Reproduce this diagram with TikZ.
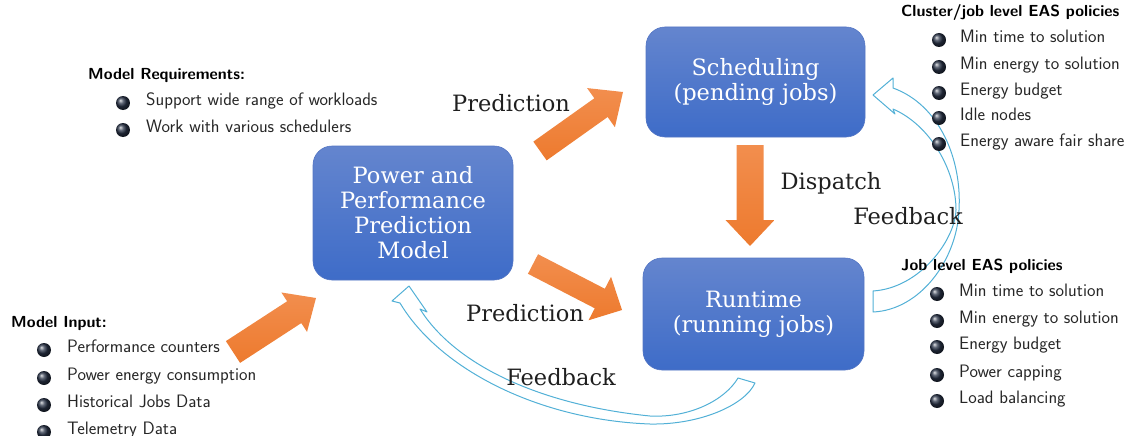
\documentclass[tikz,border=0pt]{standalone}
\usepackage{fontspec}
\newfontfamily\serifbox{DejaVu Serif}
\usetikzlibrary{calc}

\definecolor{boxtop}{RGB}{100,133,206}
\definecolor{boxbot}{RGB}{62,108,200}
\definecolor{boxedge}{RGB}{84,118,196}
\definecolor{orlight}{RGB}{242,142,78}
\definecolor{ordark}{RGB}{237,122,46}
\definecolor{fbline}{RGB}{82,176,214}
\definecolor{balltone}{RGB}{40,50,70}

\tikzset{
  stage/.style={shade, top color=boxtop, bottom color=boxbot, draw=boxedge,
    line width=0.6pt, rounded corners=19pt, text=white, align=center,
    font=\serifbox\fontsize{22.5}{25}\selectfont, inner sep=0pt},
  flowlabel/.style={font=\serifbox\fontsize{22.5}{25}\selectfont,
    text=black!88, inner sep=0pt},
  listhead/.style={font=\sffamily\bfseries\fontsize{16}{19}\selectfont,
    anchor=west, inner sep=0pt, text=black, text height=0.72em, text depth=0.22em},
  entry/.style={font=\sffamily\fontsize{18}{21}\selectfont, anchor=west,
    inner sep=0pt, text=black!85, text height=0.72em, text depth=0.22em},
  ballmark/.style={circle, inner sep=0pt, minimum size=14pt, shading=ball,
    ball color=balltone},
  hollow/.style={draw=fbline, line width=1pt, line join=round},
  fat/.style={top color=orlight, bottom color=ordark, draw=none}
}

% broad block arrow from tail #1 to tip #2:
% #3 half shaft width, #4 half head width, #5 head length
\newcommand\fatarrow[5]{%
  \coordinate (#1-hb) at ($(#2)!#5!(#1)$);
  \shade[fat] ($(#1)!#3!90:(#2)$) -- ($(#1-hb)!#3!-90:(#1)$)
    -- ($(#1-hb)!#4!-90:(#1)$) -- (#2) -- ($(#1-hb)!#4!90:(#1)$)
    -- ($(#1-hb)!#3!90:(#1)$) -- ($(#1)!#3!-90:(#2)$) -- cycle;
}

\begin{document}
\begin{tikzpicture}[x=1pt,y=-1pt]
\useasboundingbox (0,0) rectangle (1127,436);

% ---- hollow feedback arrows ----
\draw[hollow] (873,312) .. controls (920,310) and (957,260) .. (959,210)
  .. controls (962,160) and (940,105) .. (893,88) -- (893,78) -- (873,95)
  -- (895,114) -- (893,109) .. controls (930,125) and (956,170) .. (956,210)
  .. controls (955,240) and (920,288) .. (873,291) -- cycle;

\draw[hollow] (738,378) .. controls (725,400) and (690,418) .. (650,416)
  .. controls (540,405) and (455,365) .. (420,309) -- (427,312) -- (409,286)
  -- (392,301) -- (400,303) .. controls (440,370) and (540,420) .. (650,424)
  .. controls (700,425) and (745,405) .. (755,383) -- cycle;

% ---- stages ----
\node[stage, minimum width=200pt, minimum height=134pt] (model) at (413,213)
  {Power and\\Performance\\Prediction\\Model};
\node[stage, minimum width=219pt, minimum height=110pt] (sched) at (755.5,82)
  {Scheduling\\(pending jobs)};
\node[stage, minimum width=221pt, minimum height=112pt] (run) at (753.5,314)
  {Runtime\\(running jobs)};

% ---- block arrows ----
\coordinate (upT) at (540,151);  \coordinate (upH) at (623,92);
\coordinate (loT) at (533,264);  \coordinate (loH) at (622,310);
\coordinate (dsT) at (750,145);  \coordinate (dsH) at (750,246);
\coordinate (inT) at (233,352);  \coordinate (inH) at (316,298);
\fatarrow{upT}{upH}{11.5pt}{24pt}{27pt}
\fatarrow{loT}{loH}{11pt}{24.5pt}{25pt}
\fatarrow{dsT}{dsH}{13.5pt}{24.5pt}{26pt}
\fatarrow{inT}{inH}{13pt}{23.5pt}{26pt}

% ---- flow labels ----
\node[flowlabel] (lpu) at (511,103) {Prediction};
\node[flowlabel] (lpl) at (525,313) {Prediction};
\node[flowlabel] (ldp) at (831,183) {Dispatch};
\node[flowlabel] (lfr) at (908,216) {Feedback};
\node[flowlabel] (lfl) at (561,377) {Feedback};

% ---- model requirements ----
\node[listhead] (reqh) at (88,77) {Model Requirements:};
\foreach \y/\t [count=\i] in {103/Support wide range of workloads,
                              130/Work with various schedulers}{
  \node[ballmark] (reqb\i) at (123,\y) {};
  \node[entry] (req\i) at (146,\y) {\t};
}

% ---- cluster/job level policies ----
\node[listhead] (clh) at (901,14) {Cluster/job level EAS policies};
\foreach \y/\t [count=\i] in {40/Min time to solution,
                              67/Min energy to solution,
                              93/Energy budget,
                              118/Idle nodes,
                              144/Energy aware fair share}{
  \node[ballmark] (clb\i) at (939,\y) {};
  \node[entry] (cl\i) at (960,\y) {\t};
}

% ---- job level policies ----
\node[listhead] (jbh) at (901,268) {Job level EAS policies};
\foreach \y/\t [count=\i] in {294/Min time to solution,
                              321/Min energy to solution,
                              347/Energy budget,
                              375/Power capping,
                              401/Load balancing}{
  \node[ballmark] (jbb\i) at (937,\y) {};
  \node[entry] (jb\i) at (959,\y) {\t};
}

% ---- model input ----
\node[listhead] (inh) at (11,325) {Model Input:};
\foreach \y/\t [count=\i] in {350/Performance counters,
                              378/Power energy consumption,
                              405/Historical Jobs Data,
                              432/Telemetry Data}{
  \node[ballmark] (inb\i) at (44,\y) {};
  \node[entry] (in\i) at (67,\y) {\t};
}
\end{tikzpicture}
\end{document}
